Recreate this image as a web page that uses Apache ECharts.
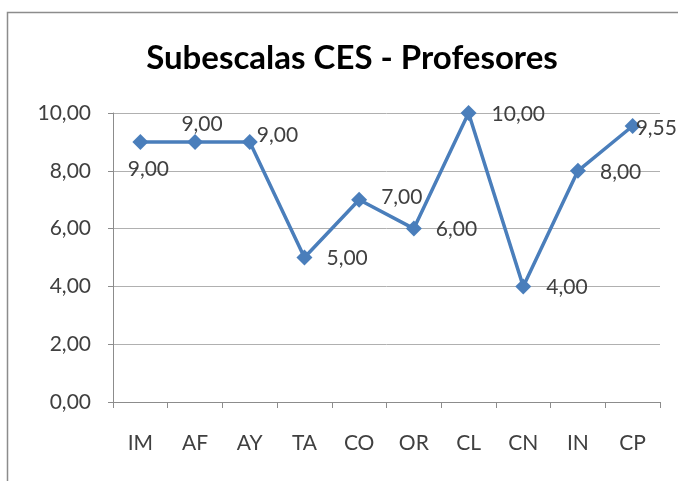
<!DOCTYPE html>
<html><head><meta charset="utf-8">
<script src="https://cdn.jsdelivr.net/npm/echarts@6/dist/echarts.min.js"></script>
<style>html,body{margin:0;padding:0;background:#fff}#c{width:678px;height:481px}</style>
</head><body><div id="c"></div>
<script>
const categories = ['IM','AF','AY','TA','CO','OR','CL','CN','IN','CP'];
const values = [9, 9, 9, 5, 7, 6, 10, 4, 8, 9.55];
const yTicks = [0, 2, 4, 6, 8, 10];

// label placement per point (style only)
const labelLayout = [
  {position:'bottom', offset:[8,4]},
  {position:'top', offset:[7,6]},
  {position:'right', offset:[-6,-7]},
  {position:'right', offset:[9,1]},
  {position:'right', offset:[9,-2]},
  {position:'right', offset:[9,1]},
  {position:'right', offset:[10,1]},
  {position:'right', offset:[10,1]},
  {position:'right', offset:[9,1]},
  {position:'right', offset:[-10,2]}
];

const fmt = v => v.toFixed(2).replace('.', ',');
const font = 'Lato, "Open Sans", sans-serif';

const chart = echarts.init(document.getElementById('c'));
chart.setOption({
  animation:false,
  title:{text:'Subescalas CES - Profesores', left:347, textAlign:'center', top:37,
    textStyle:{fontFamily:font, fontSize:33, fontWeight:'bold', color:'#000'}},
  grid:{left:113, right:18, top:113, bottom:79, containLabel:false},
  graphic:[{type:'polyline', shape:{points:[[7.5,481],[7.5,12.5],[678,12.5]]},
    style:{stroke:'#8c8c8c', lineWidth:1.5, fill:null}}],
  xAxis:{type:'category', data:categories, boundaryGap:true,
    axisLine:{lineStyle:{color:'#8c8c8c', width:1}},
    axisTick:{show:true, length:6, lineStyle:{color:'#8c8c8c'}},
    axisLabel:{fontFamily:font, fontSize:21, color:'#404040', margin:31}},
  yAxis:{type:'value', min:0, max:10, interval:2,
    axisLine:{show:true, lineStyle:{color:'#8c8c8c'}},
    axisTick:{show:true, length:5, lineStyle:{color:'#8c8c8c'}},
    splitLine:{lineStyle:{color:'#b0b0b0', width:1}},
    axisLabel:{fontFamily:font, fontSize:21, color:'#404040', margin:22,
      formatter: v => yTicks.includes(v) ? fmt(v) : ''}},
  series:[{type:'line', symbol:'diamond', symbolSize:16,
    lineStyle:{color:'#4a7ebb', width:3.5},
    itemStyle:{color:'#4a7ebb'},
    data: values.map((v,i)=>({value:v, label:{show:true, position:labelLayout[i].position,
      offset:labelLayout[i].offset, formatter:()=>fmt(v),
      fontFamily:font, fontSize:21, color:'#404040'}}))
  }]
});
</script></body></html>
